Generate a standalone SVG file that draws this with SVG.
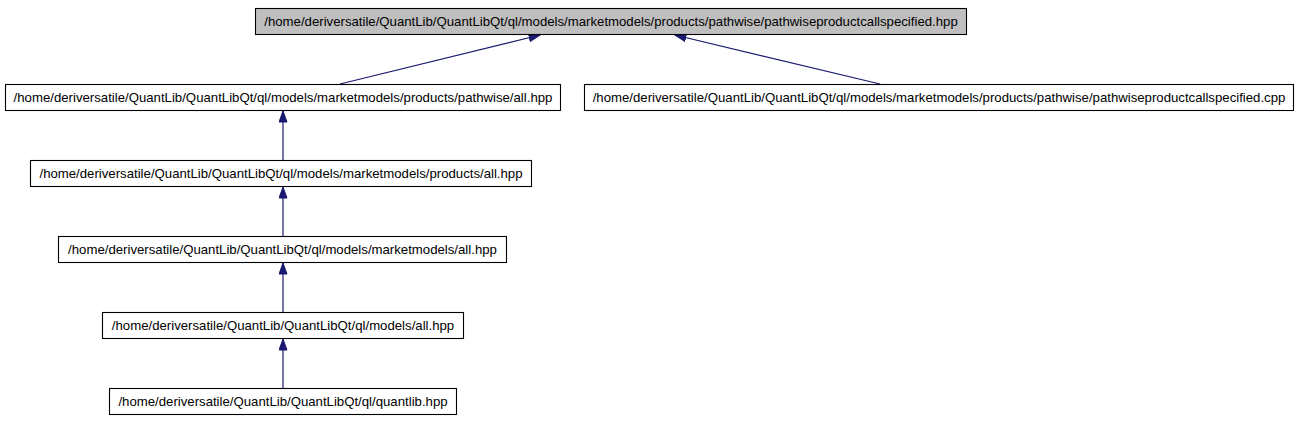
<svg xmlns="http://www.w3.org/2000/svg" width="1299" height="427" viewBox="0 0 1299 427">
<style>
.box{fill:#ffffff;stroke:#000000;stroke-width:1.1}
.root{fill:#bfbfbf;stroke:#000000;stroke-width:1.1}
.lbl{font-family:"Liberation Sans",Arial,sans-serif;font-size:13.2px;fill:#000000;text-anchor:middle}
.edge{stroke:#191970;stroke-width:1.2;fill:none;marker-end:url(#arr)}
</style>
<defs>
<marker id="arr" markerUnits="userSpaceOnUse" markerWidth="13" markerHeight="10" refX="11.5" refY="4.5" orient="auto">
<path d="M0.5,0.5 L11.5,4.5 L0.5,8.5 z" fill="#191970" stroke="#191970" stroke-width="1"/>
</marker>
</defs>
<g id="connectors">
<line class="edge" x1="340" y1="84" x2="540" y2="35"/>
<line class="edge" x1="880" y1="84" x2="675" y2="35"/>
<line class="edge" x1="283" y1="160" x2="283" y2="111"/>
<line class="edge" x1="283" y1="236" x2="283" y2="187"/>
<line class="edge" x1="283" y1="312" x2="283" y2="263"/>
<line class="edge" x1="283" y1="388" x2="283" y2="339"/>
</g>
<g id="node1">
<rect class="root" x="255.5" y="8.5" width="711" height="26"/>
<text class="lbl" x="611" y="26">/home/deriversatile/QuantLib/QuantLibQt/ql/models/marketmodels/products/pathwise/pathwiseproductcallspecified.hpp</text>
</g>
<g id="node2">
<rect class="box" x="5.5" y="84.5" width="555" height="26"/>
<text class="lbl" x="283" y="102">/home/deriversatile/QuantLib/QuantLibQt/ql/models/marketmodels/products/pathwise/all.hpp</text>
</g>
<g id="node3">
<rect class="box" x="584.5" y="84.5" width="709" height="26"/>
<text class="lbl" x="939" y="102">/home/deriversatile/QuantLib/QuantLibQt/ql/models/marketmodels/products/pathwise/pathwiseproductcallspecified.cpp</text>
</g>
<g id="node4">
<rect class="box" x="30.5" y="160.5" width="501" height="26"/>
<text class="lbl" x="281" y="178">/home/deriversatile/QuantLib/QuantLibQt/ql/models/marketmodels/products/all.hpp</text>
</g>
<g id="node5">
<rect class="box" x="58.5" y="236.5" width="448" height="26"/>
<text class="lbl" x="282.5" y="254">/home/deriversatile/QuantLib/QuantLibQt/ql/models/marketmodels/all.hpp</text>
</g>
<g id="node6">
<rect class="box" x="102.5" y="312.5" width="361" height="26"/>
<text class="lbl" x="283" y="330">/home/deriversatile/QuantLib/QuantLibQt/ql/models/all.hpp</text>
</g>
<g id="node7">
<rect class="box" x="109.5" y="388.5" width="347" height="26"/>
<text class="lbl" x="283" y="406">/home/deriversatile/QuantLib/QuantLibQt/ql/quantlib.hpp</text>
</g>
</svg>
